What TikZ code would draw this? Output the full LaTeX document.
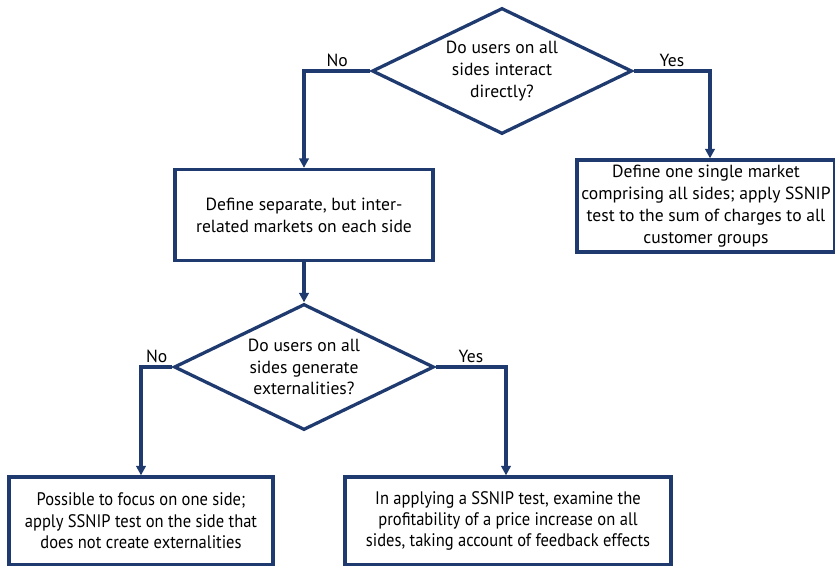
\documentclass[tikz,border=0pt]{standalone}
\usepackage{fontspec}
\setmainfont{PT Sans}
\newfontfamily\condfont{PT Sans}[FakeStretch=0.91]
\usetikzlibrary{shapes.geometric,arrows.meta}
\definecolor{navy}{RGB}{31,58,110}
\tikzset{
  flow/.style={draw=navy, line width=2.8pt},
  arr/.style={flow, -{Triangle[width=8pt,length=8pt]}},
  decision/.style={flow, diamond, inner sep=0pt, aspect=2,
    minimum width=7.8cm, minimum height=3.78cm, align=center,
    font=\fontsize{15}{18.5}\selectfont},
  outcome/.style={flow, rectangle, inner sep=0pt, align=center,
    font=\fontsize{15}{18.7}\selectfont},
  tag/.style={font=\fontsize{15}{16}\selectfont, inner sep=2pt}
}
\begin{document}
\begin{tikzpicture}[x=0.03cm,y=-0.03cm]
  \useasboundingbox (0,0) rectangle (835,566);
  %First question
  \node[decision] (q1) at (502,71) {Do users on all\\sides interact\\directly?};
  %Markets
  \node[outcome, minimum width=7.74cm, minimum height=2.73cm] (sep) at (304,215)
    {Define separate, but inter-\\related markets on each side};
  \node[outcome, minimum width=7.74cm, minimum height=2.76cm] (one) at (706,206)
    {Define one single market\\comprising all sides; apply SSNIP\\test to the sum of charges to all\\customer groups};
  %Second question
  \node[decision] (q2) at (304,367) {Do users on all\\sides generate\\externalities?};
  %Outcomes of the test
  \node[outcome, minimum width=7.92cm, minimum height=2.64cm, font=\condfont\fontsize{15.5}{18.3}\selectfont] (oneside) at (141,521)
    {Possible to focus on one side;\\apply SSNIP test on the side that\\does not create externalities};
  \node[outcome, minimum width=9.78cm, minimum height=2.64cm, font=\condfont\fontsize{15.5}{18.3}\selectfont] (allsides) at (508,521)
    {In applying a SSNIP test, examine the\\profitability of a price increase on all\\sides, taking account of feedback effects};
  %Connectors
  \draw[arr] (q1.west) -| (sep.north) node[tag, pos=0.25, above] {No};
  \draw[arr] (q1.east) -| ([xshift=0.12cm]one.north) node[tag, pos=0.25, above] {Yes};
  \draw[arr] (sep.south) -- (q2.north);
  \draw[arr] (q2.west) -| (oneside.north) node[tag, pos=0.25, above] {No};
  \draw[arr] (q2.east) -| ([xshift=-0.06cm]allsides.north) node[tag, pos=0.25, above] {Yes};
\end{tikzpicture}
\end{document}
